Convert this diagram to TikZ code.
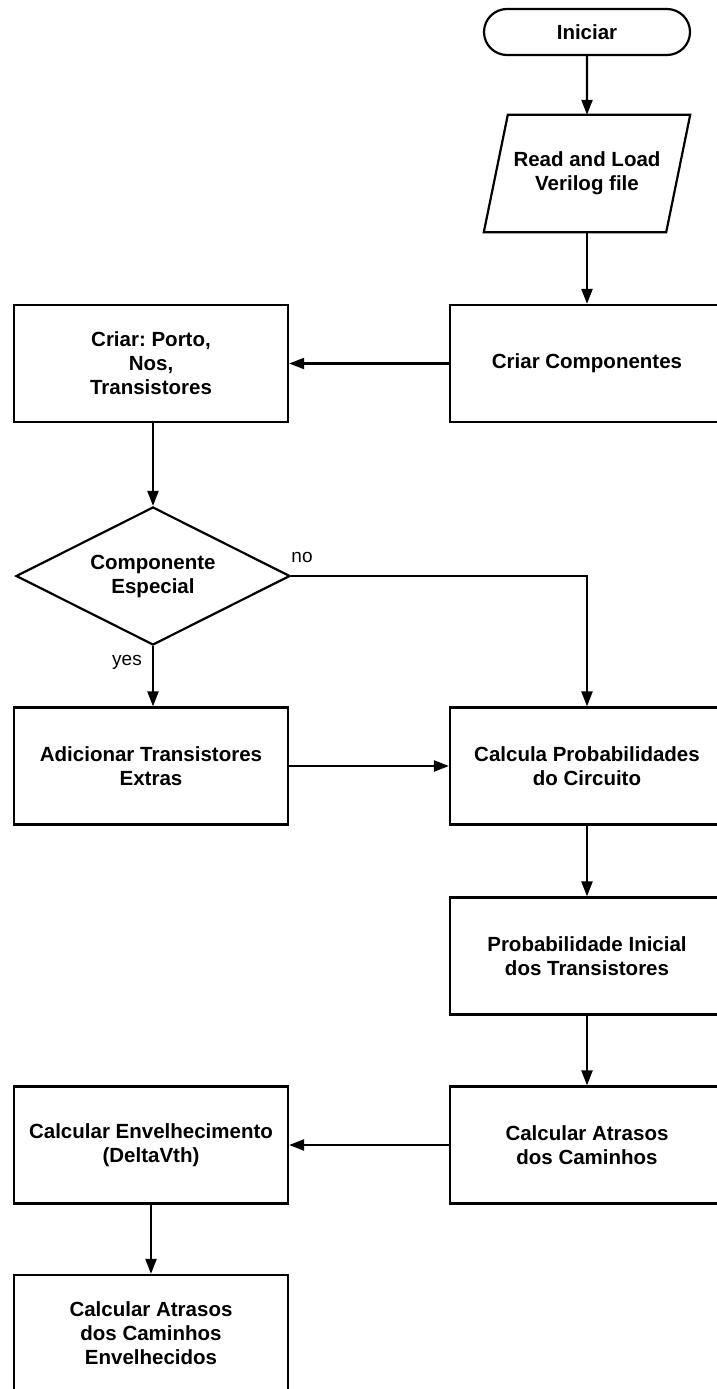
\documentclass[tikz,border=0pt]{standalone}
\usepackage{fontspec}
\setmainfont{Liberation Sans}
\usetikzlibrary{arrows.meta,shapes.geometric,shapes.misc,calc}
\frenchspacing

\begin{document}
\begin{tikzpicture}[x=1pt,y=-1pt,
  every node/.style={font=\fontsize{20.5}{24}\selectfont\bfseries, align=center, inner sep=0pt},
  stepbox/.style={draw, line width=2.2pt, minimum width=274pt, minimum height=117pt},
  terminal/.style={draw, line width=2.2pt, rounded rectangle, minimum width=206pt, minimum height=46pt},
  decision/.style={draw, line width=2.2pt, diamond, aspect=2, minimum width=274pt, minimum height=138pt},
  iobox/.style={minimum width=182pt, minimum height=117pt},
  flow/.style={line width=2.2pt, -{Triangle[length=15pt,width=11pt]}},
  edgelabel/.style={font=\fontsize{19}{22}\selectfont\mdseries}
]
  % page frame
  \fill[white] (0,0) rectangle (717,1389);
  \useasboundingbox (0,0) rectangle (717,1389);
  \clip (0,0) rectangle (717,1389);

  % right column
  \node[terminal] (start) at (587,32) {Iniciar};
  \node[iobox] (read) at (587,173.5) {Read and Load\\Verilog file};
  \draw[line width=2.2pt, line join=miter]
    ($(read.north west)+(12,0)$) -- ($(read.north east)+(12,0)$) --
    ($(read.south east)+(-12,0)$) -- ($(read.south west)+(-12,0)$) -- cycle;
  \node[stepbox] (comp) at (587,363.5) {Criar Componentes};
  \node[stepbox] (calc) at (587,766) {Calcula Probabilidades\\do Circuito};
  \node[stepbox] (prob) at (587,956) {Probabilidade Inicial\\dos Transistores};
  \node[stepbox] (atr) at (587,1145) {Calcular Atrasos\\dos Caminhos};

  % left column
  \node[stepbox] (criar) at (151,363.5) {Criar: Porto,\\Nos,\\Transistores};
  \node[decision] (esp) at (153,576) {Componente\\Especial};
  \node[stepbox] (adic) at (151,766) {Adicionar Transistores\\Extras};
  \node[stepbox] (env) at (151,1145) {Calcular Envelhecimento\\(DeltaVth)};
  \node[stepbox] (last) at (151,1333.5) {Calcular Atrasos\\dos Caminhos\\Envelhecidos};

  % connectors
  \draw[flow] (start) -- (read.north);
  \draw[flow] (read.south) -- (comp);
  \draw[flow] (comp) -- (criar);
  \draw[flow] (criar.south -| esp.north) -- (esp);
  \draw[flow] (esp.east) -| (calc.north);
  \draw[flow] (esp.south) -- (esp.south |- adic.north);
  \draw[flow] (adic) -- (calc);
  \draw[flow] (calc) -- (prob);
  \draw[flow] (prob) -- (atr);
  \draw[flow] (atr) -- (env);
  \draw[flow] (env.south -| last.north) -- (last);

  % branch labels
  \node[edgelabel] (lno) at (302,557) {no};
  \node[edgelabel] (lyes) at (127,662) {yes};
\end{tikzpicture}
\end{document}
